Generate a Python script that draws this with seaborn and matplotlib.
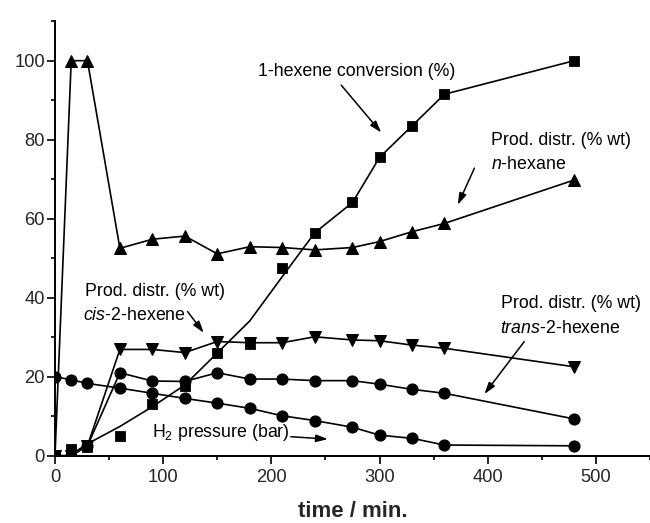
import matplotlib
matplotlib.use("Agg")
import matplotlib.pyplot as plt
import seaborn as sns
import pandas as pd
from matplotlib.ticker import MultipleLocator

# Sampling times (min)
time = [0, 15, 30, 60, 90, 120, 150, 180, 210, 240, 275, 300, 330, 360, 480]

# 1-hexene conversion (%)
conversion = [0, 1.6, 2.3, 5.0, 13.1, 17.6, 26.1, 28.3, 47.4, 56.4, 64.1, 75.5, 83.5, 91.5, 100]
# smoothed conversion trend
trend_time = [15, 30, 60, 90, 120, 150, 180, 210, 240, 275, 300, 330, 360, 480]
trend_conv = [0.3, 3.0, 7.4, 12.4, 17.9, 26.0, 34.1, 45.3, 56.4, 64.1, 75.5, 83.5, 91.5, 100]

# Product distribution (% wt)
n_hexane = [0, 100, 100, 52.5, 54.8, 55.6, 51.1, 52.9, 52.7, 52.1, 52.7, 54.2, 56.7, 58.8, 69.8]
cis_2_hexene = [0, 0, 2.5, 26.9, 26.9, 26.1, 28.9, 28.6, 28.6, 30.1, 29.3, 29.1, 28.0, 27.2, 22.5]
trans_2_hexene = [0, 0, 2.5, 21.0, 18.9, 18.8, 21.0, 19.4, 19.4, 19.0, 19.0, 18.1, 16.8, 15.8, 9.3]

# H2 pressure (bar)
h2_pressure = [20, 19.2, 18.3, 17.1, 15.8, 14.5, 13.3, 12.0, 10.1, 8.9, 7.2, 5.2, 4.4, 2.7, 2.5]

sns.set_style("ticks")
plt.rcParams["font.family"] = ["Liberation Sans", "DejaVu Sans"]
plt.rcParams["mathtext.fontset"] = "custom"
plt.rcParams["mathtext.rm"] = "Liberation Sans"
plt.rcParams["mathtext.it"] = "Liberation Sans:italic"
plt.rcParams["mathtext.default"] = "regular"

fig = plt.figure(figsize=(6.5, 5.23), dpi=100)
ax = fig.add_axes([0.0846, 0.1287, 0.9154, 0.8308])

df = pd.DataFrame({
    "time": time,
    "conversion": conversion,
    "n_hexane": n_hexane,
    "cis": cis_2_hexene,
    "trans": trans_2_hexene,
    "h2": h2_pressure,
})
trend = pd.DataFrame({"time": trend_time, "conv": trend_conv})

line_kw = dict(color="black", linewidth=1.2, ax=ax, legend=False)

sns.lineplot(data=df, x="time", y="n_hexane", marker="^", markersize=9,
             markeredgecolor="black", markerfacecolor="black", **line_kw)
sns.lineplot(data=df, x="time", y="cis", marker="v", markersize=9,
             markeredgecolor="black", markerfacecolor="black", **line_kw)
sns.lineplot(data=df, x="time", y="trans", marker="o", markersize=8,
             markeredgecolor="black", markerfacecolor="black", **line_kw)
sns.lineplot(data=df, x="time", y="h2", marker="o", markersize=8,
             markeredgecolor="black", markerfacecolor="black", **line_kw)
sns.lineplot(data=trend, x="time", y="conv", **line_kw)
sns.scatterplot(data=df, x="time", y="conversion", marker="s", s=55,
                color="black", edgecolor="black", ax=ax, zorder=5, legend=False)

ax.set_xlim(0, 550)
ax.set_ylim(0, 110)
ax.xaxis.set_major_locator(MultipleLocator(100))
ax.xaxis.set_minor_locator(MultipleLocator(50))
ax.yaxis.set_minor_locator(MultipleLocator(10))
ax.set_yticks([0, 20, 40, 60, 80, 100])
ax.tick_params(which="major", direction="out", length=5.8, width=1.2, labelsize=13.2, color="black")
ax.tick_params(axis="y", which="major", pad=1.5)
ax.tick_params(which="minor", direction="out", length=3.2, width=1.2, color="black")
for side in ("left", "bottom"):
    ax.spines[side].set_linewidth(1.4)
    ax.spines[side].set_color("black")
sns.despine(ax=ax, top=True, right=True)

ax.set_xlabel("time / min.", fontsize=16, fontweight="bold", labelpad=11)
ax.set_ylabel("")

txt = dict(fontsize=12.8, color="black")
arrow = dict(arrowstyle="-|>,head_length=0.7,head_width=0.22", color="black",
             linewidth=1.1, shrinkA=0, shrinkB=0)

ax.text(187.7, 97.2, "1-hexene conversion (%)", ha="left", va="center", **txt)
ax.annotate("", xy=(301.5, 81.8), xytext=(264.6, 93.8), arrowprops=arrow)

ax.text(403.1, 79.9, "Prod. distr. (% wt)", ha="left", va="center", **txt)
ax.text(403.1, 73.6, "$\\it{n}$-hexane", ha="left", va="center", **txt)
ax.annotate("", xy=(372.3, 63.5), xytext=(387.7, 72.8), arrowprops=arrow)

ax.text(27.7, 41.5, "Prod. distr. (% wt)", ha="left", va="center", **txt)
ax.text(26.1, 35.6, "$\\it{cis}$-2-hexene", ha="left", va="center", **txt)
ax.annotate("", xy=(137.5, 31.1), xytext=(122.5, 36.5), arrowprops=arrow)

ax.text(412.3, 38.6, "Prod. distr. (% wt)", ha="left", va="center", **txt)
ax.text(411.7, 32.3, "$\\it{trans}$-2-hexene", ha="left", va="center", **txt)
ax.annotate("", xy=(396.9, 15.6), xytext=(433.8, 28.9), arrowprops=arrow)

ax.text(89.3, 4.8, "H$_2$ pressure (bar)", ha="left", va="baseline", **txt)
ax.annotate("", xy=(252.3, 4.2), xytext=(218.0, 4.8), arrowprops=arrow)

fig.savefig("out.png", dpi=100)
